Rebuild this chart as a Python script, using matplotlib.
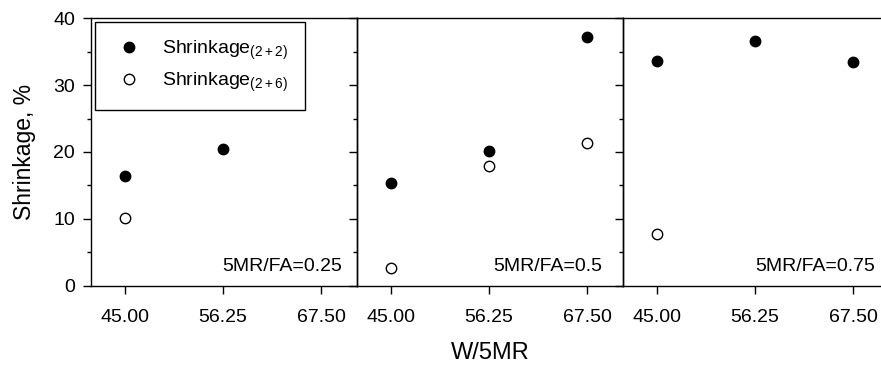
import matplotlib
matplotlib.use("Agg")
import matplotlib.pyplot as plt
from matplotlib.ticker import MultipleLocator, FixedLocator

plt.rcParams['font.family'] = ['Liberation Sans', 'DejaVu Sans']
plt.rcParams['mathtext.fontset'] = 'custom'
plt.rcParams['mathtext.rm'] = 'Liberation Sans'
plt.rcParams['mathtext.it'] = 'Liberation Sans'

# Data
w5mr = [45.00, 56.25, 67.50]
panel_labels = ["5MR/FA=0.25", "5MR/FA=0.5", "5MR/FA=0.75"]
shrink_22 = [
    [16.45, 20.5, None],
    [15.4, 20.1, 37.2],
    [33.6, 36.6, 33.4],
]
shrink_26 = [
    [10.2, None, None],
    [2.7, 17.95, 21.4],
    [7.75, None, None],
]
xtick_labels = ["45.00", "56.25", "67.50"]

W, H = 881, 365
fig = plt.figure(figsize=(W / 100, H / 100), dpi=100)

lefts = [91, 357, 623]
pw = 266
top_px, bot_px = 18.3, 285.7
label_x = [0.944, 0.921, 0.947]

axes = []
for i, lp in enumerate(lefts):
    ax = fig.add_axes([lp / W, (H - bot_px) / H, pw / W, (bot_px - top_px) / H])
    axes.append(ax)
    xs = [x for x, y in zip(w5mr, shrink_22[i]) if y is not None]
    ys = [y for y in shrink_22[i] if y is not None]
    ax.plot(xs, ys, 'o', color='black', markersize=7.5, markeredgewidth=1,
            linestyle='none', label=r'Shrinkage$_{(2+2)}$', zorder=3)
    xs = [x for x, y in zip(w5mr, shrink_26[i]) if y is not None]
    ys = [y for y in shrink_26[i] if y is not None]
    ax.plot(xs, ys, 'o', markerfacecolor='white', markeredgecolor='black',
            markersize=7.5, markeredgewidth=1, linestyle='none',
            label=r'Shrinkage$_{(2+6)}$', zorder=3)
    ax.set_xlim(41.1, 71.6)
    ax.set_ylim(0, 40)
    ax.xaxis.set_major_locator(FixedLocator(w5mr))
    ax.set_xticklabels(xtick_labels)
    ax.yaxis.set_major_locator(MultipleLocator(10))
    ax.yaxis.set_minor_locator(MultipleLocator(5))
    ax.tick_params(axis='both', which='major', direction='out', length=5.5, width=1,
                   labelsize=14, color='black')
    ax.tick_params(axis='y', which='minor', direction='out', length=3, width=1)
    ax.tick_params(axis='x', which='major', pad=11)
    ax.tick_params(axis='y', which='major', pad=6)
    if i > 0:
        ax.tick_params(axis='y', labelleft=False)
    for s in ax.spines.values():
        s.set_linewidth(1)
        s.set_color('black')
    ax.text(label_x[i], 0.055, panel_labels[i], transform=ax.transAxes,
            ha='right', va='baseline', fontsize=14)
    ax.set_zorder(3 - i)
    ax.patch.set_alpha(0)

axes[0].set_ylabel('Shrinkage, %', fontsize=16.5, labelpad=12)
fig.text(490 / W, 1 - 353 / H, 'W/5MR', ha='center', va='center', fontsize=17)

leg = axes[0].legend(loc='upper left', bbox_to_anchor=(0.015, 0.986),
                     borderaxespad=0, frameon=True, fancybox=False,
                     edgecolor='black', fontsize=14, handletextpad=0.8,
                     borderpad=0.85, labelspacing=0.45, handlelength=1.8)
leg.get_frame().set_linewidth(1)
leg.get_frame().set_alpha(1)

fig.savefig('out.png', dpi=100)
